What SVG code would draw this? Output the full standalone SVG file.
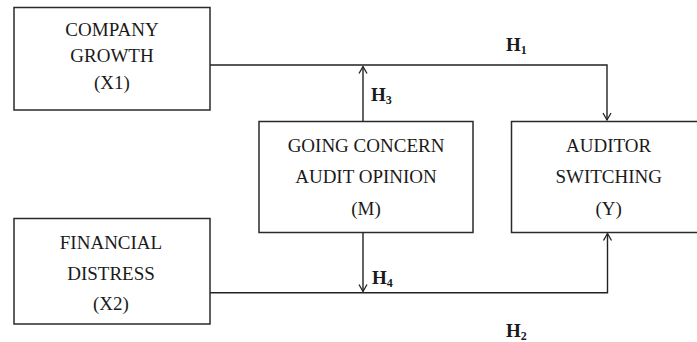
<svg xmlns="http://www.w3.org/2000/svg" width="697" height="342" viewBox="0 0 697 342">
  <style>
    .box { fill: #ffffff; stroke: #2a2a2a; stroke-width: 1.5; }
    .lbl { font-family: "Liberation Serif", "Times New Roman", serif; font-size: 19px; fill: #1a1a1a; text-anchor: middle; }
    .h { font-family: "Liberation Serif", "Times New Roman", serif; font-size: 19px; font-weight: bold; fill: #1a1a1a; }
    .sub { font-size: 12px; }
    .conn { fill: none; stroke: #222; stroke-width: 1.4; }
  </style>
  <defs>
    <marker id="arr" markerUnits="userSpaceOnUse" markerWidth="12" markerHeight="12" refX="8" refY="5" orient="auto">
      <path d="M1,1 L8,5 L1,9" fill="none" stroke="#222" stroke-width="1.3"/>
    </marker>
  </defs>
  <rect width="697" height="342" fill="#ffffff"/>

  <g id="connectors">
    <path class="conn" d="M210,65 H607 V120" marker-end="url(#arr)"/>
    <path class="conn" d="M363,121.5 V66.5" marker-end="url(#arr)"/>
    <path class="conn" d="M363,232.5 V291.5" marker-end="url(#arr)"/>
    <path class="conn" d="M210,292.7 H607.5 V233.5" marker-end="url(#arr)"/>
    <text class="h" x="506" y="51">H<tspan class="sub" dy="3">1</tspan></text>
    <text class="h" x="371" y="101">H<tspan class="sub" dy="3">3</tspan></text>
    <text class="h" x="372" y="284">H<tspan class="sub" dy="3">4</tspan></text>
    <text class="h" x="506" y="337">H<tspan class="sub" dy="3">2</tspan></text>
  </g>

  <g id="x1">
    <rect class="box" x="14" y="7.5" width="196" height="102.5"/>
    <text class="lbl" x="112" y="36">COMPANY</text>
    <text class="lbl" x="112" y="62">GROWTH</text>
    <text class="lbl" x="112" y="89">(X1)</text>
  </g>

  <g id="m">
    <rect class="box" x="259" y="121.5" width="214" height="111"/>
    <text class="lbl" x="366" y="152">GOING CONCERN</text>
    <text class="lbl" x="366" y="183">AUDIT OPINION</text>
    <text class="lbl" x="366" y="215">(M)</text>
  </g>

  <g id="y">
    <rect class="box" x="511.5" y="121.5" width="190" height="111"/>
    <text class="lbl" x="608.7" y="152">AUDITOR</text>
    <text class="lbl" x="608.7" y="183">SWITCHING</text>
    <text class="lbl" x="608.7" y="215">(Y)</text>
  </g>

  <g id="x2">
    <rect class="box" x="14" y="218.5" width="196" height="105.5"/>
    <text class="lbl" x="111" y="249">FINANCIAL</text>
    <text class="lbl" x="111" y="280">DISTRESS</text>
    <text class="lbl" x="111" y="310">(X2)</text>
  </g>
</svg>
